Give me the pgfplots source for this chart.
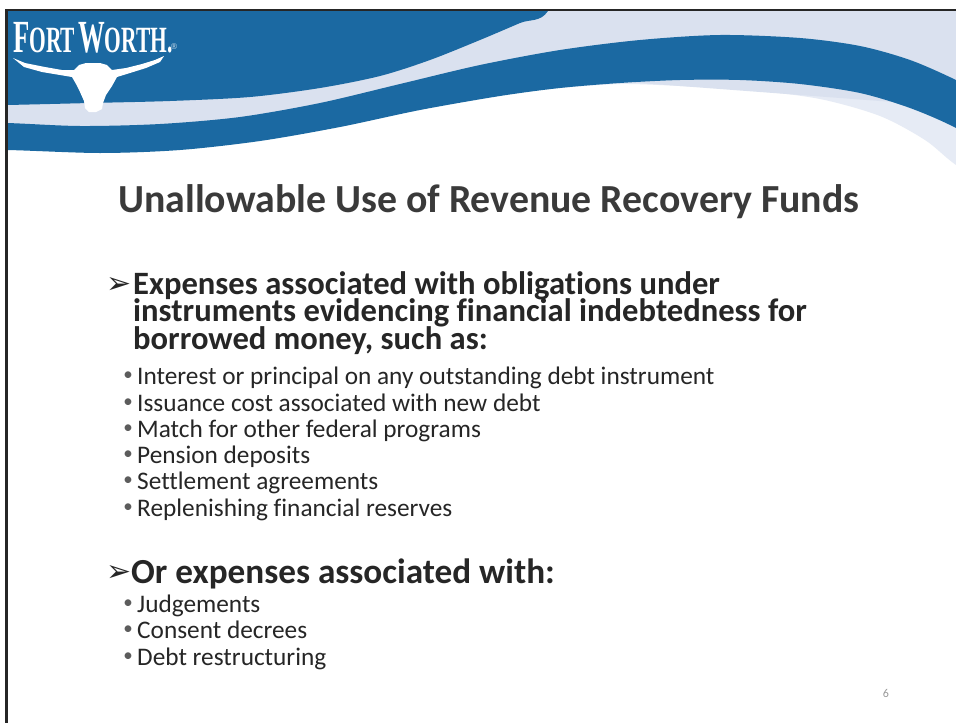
\documentclass[border=0pt]{standalone}
\usepackage{fontspec}
\setmainfont{Carlito}[Ligatures={NoCommon}]
\newfontfamily\dejavu{DejaVu Sans}
\newfontfamily\logofont{Liberation Serif}
\usepackage{graphicx}
\usepackage{pgfplots}
\pgfplotsset{compat=1.18}
\definecolor{fwblue}{HTML}{1B69A2}
\definecolor{fwlight}{HTML}{DAE1EF}
\definecolor{fwtail}{HTML}{E6EBF5}
\definecolor{txt}{HTML}{262626}
\definecolor{ttl}{HTML}{3A3A3A}
\begin{document}
\begin{tikzpicture}
\begin{axis}[scale only axis, width=956pt, height=723pt,
  xmin=0, xmax=956, ymin=0, ymax=723, y dir=reverse,
  hide axis, clip=true]
% page background
\addplot[fill=white, draw=none] coordinates {(0,0) (956,0) (956,723) (0,723)} -- cycle;
% light tail on the right
\addplot[fill=fwtail, draw=none, smooth] coordinates {
 (600,60) (700,70) (800,78) (880,95) (1000,110) (1010,200) (956,165) (925,140) (880,116) (820,99) (750,90) (680,86) (620,84) (560,88)};
% light background of header
\addplot[fill=fwlight, draw=none] coordinates {
 (-50,-50) (1000,-50) (1000,110) (600,80) (400,100) (200,135) (-50,140)} -- cycle;
% lower dark band
\addplot[fill=fwblue, draw=none, smooth] coordinates {
 (-60,122) (7,123) (80,126) (160,124) (240,117) (320,103) (400,84) (480,65) (560,50) (640,40) (720,35) (800,38) (860,46) (910,60) (956,80) (1010,108)
 (1010,160) (956,128) (910,108) (860,93) (800,84) (740,80) (680,80) (620,83) (560,88) (500,96) (420,110) (340,127) (260,141) (180,150) (100,153) (7,150) (-60,150)};
% upper dark band
\addplot[fill=fwblue, draw=none, smooth] coordinates {
 (-60,-60) (575,-60) (548,11) (520,23) (480,40) (430,60) (380,76) (320,88) (250,97) (170,101) (90,103) (7,105) (-60,106)};
% white margins and frame
\addplot[fill=white, draw=none] coordinates {(-10,-10) (1000,-10) (1000,9) (-10,9)} -- cycle;
\addplot[fill=white, draw=none] coordinates {(-10,-10) (5.5,-10) (5.5,740) (-10,740)} -- cycle;
\addplot[draw=black!85, line width=2.2pt] coordinates {(6.5,740) (6.5,10) (1000,10)};
% longhorn
\addplot[fill=white, draw=none] coordinates {
 (13,58) (25,63) (45,67) (62,70) (74,70) (79,65) (86,63) (100,63) (107,65) (112,70) (126,68) (142,64) (155,60) (164,56)
 (160,62) (146,68) (130,73) (117,77) (112,86) (106,95) (103,103) (102,109) (96,112) (89,112) (85,108) (84,101) (80,92) (76,84) (72,77)
 (60,75) (42,72) (24,67)} -- cycle;
\node[anchor=base west, inner sep=0pt, text=white] at (axis cs:13,52)
 {\logofont\scalebox{0.58}[1]{\fontsize{46}{46}\selectfont\bfseries F\fontsize{37}{37}\selectfont ORT\hspace{0.14em}\fontsize{46}{46}\selectfont W\fontsize{37}{37}\selectfont ORTH.}};
\node[anchor=center, inner sep=0pt, text=white!75!fwblue] at (axis cs:174,47) {\dejavu\fontsize{8}{8}\selectfont ®};
% title
\node[anchor=base west, inner sep=0pt, text=ttl] at (axis cs:118,212)
 {\fontsize{39.8}{40}\selectfont\bfseries Unallowable Use of Revenue Recovery Funds};
% first main bullet
\node[anchor=west, inner sep=0pt, text=txt] at (axis cs:106,285) {\dejavu\fontsize{30}{30}\selectfont ➢};
\node[anchor=base west, inner sep=0pt, text=txt] at (axis cs:133,294) {\fontsize{32.6}{32}\selectfont\bfseries Expenses associated with obligations under};
\node[anchor=base west, inner sep=0pt, text=txt] at (axis cs:133,321) {\fontsize{32.6}{32}\selectfont\bfseries instruments evidencing financial indebtedness for};
\node[anchor=base west, inner sep=0pt, text=txt] at (axis cs:133,349) {\fontsize{32.6}{32}\selectfont\bfseries borrowed money, such as:};
% sub bullets 1
\newcommand{\bul}[1]{\node[anchor=center, inner sep=0pt, text=txt!75] at (axis cs:128,#1) {\fontsize{19}{19}\selectfont •};}
\bul{376}
\node[anchor=base west, inner sep=0pt, text=txt] at (axis cs:137,384) {\fontsize{25.3}{25}\selectfont Interest or principal on any outstanding debt instrument};
\bul{403}
\node[anchor=base west, inner sep=0pt, text=txt] at (axis cs:137,411) {\fontsize{25.3}{25}\selectfont Issuance cost associated with new debt};
\bul{429}
\node[anchor=base west, inner sep=0pt, text=txt] at (axis cs:137,437) {\fontsize{25.3}{25}\selectfont Match for other federal programs};
\bul{455}
\node[anchor=base west, inner sep=0pt, text=txt] at (axis cs:137,463) {\fontsize{25.3}{25}\selectfont Pension deposits};
\bul{481}
\node[anchor=base west, inner sep=0pt, text=txt] at (axis cs:137,489) {\fontsize{25.3}{25}\selectfont Settlement agreements};
\bul{508}
\node[anchor=base west, inner sep=0pt, text=txt] at (axis cs:137,516) {\fontsize{25.3}{25}\selectfont Replenishing financial reserves};
% second main bullet
\node[anchor=west, inner sep=0pt, text=txt] at (axis cs:106,573) {\dejavu\fontsize{30}{30}\selectfont ➢};
\node[anchor=base west, inner sep=0pt, text=txt] at (axis cs:131,583) {\fontsize{35.2}{35}\selectfont\bfseries Or expenses associated with:};
% sub bullets 2
\bul{604}
\node[anchor=base west, inner sep=0pt, text=txt] at (axis cs:137,612) {\fontsize{25.3}{25}\selectfont Judgements};
\bul{630}
\node[anchor=base west, inner sep=0pt, text=txt] at (axis cs:137,638) {\fontsize{25.3}{25}\selectfont Consent decrees};
\bul{657}
\node[anchor=base west, inner sep=0pt, text=txt] at (axis cs:137,665) {\fontsize{25.3}{25}\selectfont Debt restructuring};
% page number
\node[anchor=base, inner sep=0pt, text=black!40] at (axis cs:886,697) {\fontsize{12}{12}\selectfont 6};
\end{axis}
\end{tikzpicture}
\end{document}
